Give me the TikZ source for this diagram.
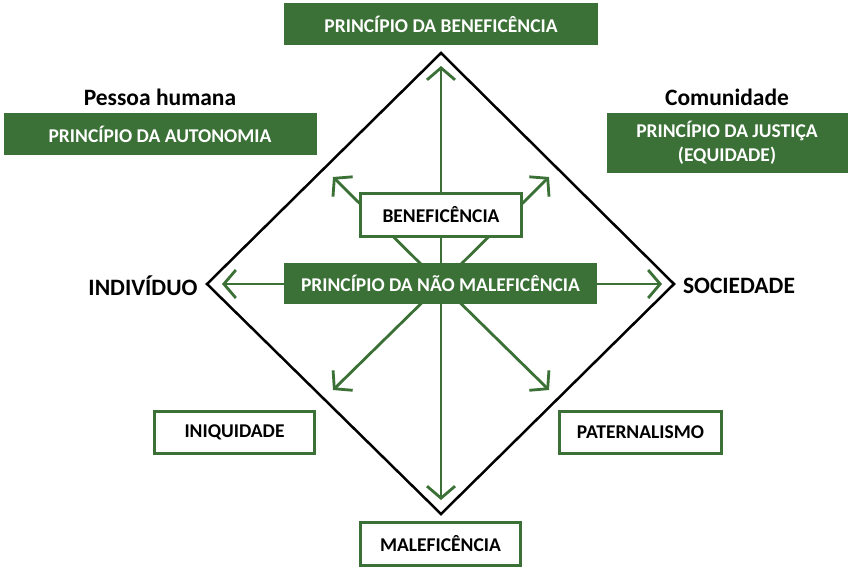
\documentclass[tikz,border=0pt]{standalone}
\usepackage{fontspec}
\setmainfont{Carlito}
\usetikzlibrary{arrows.meta}
\definecolor{grn}{RGB}{59,113,54}
\begin{document}
\begin{tikzpicture}[x=1pt,y=-1pt,
  greenbox/.style={fill=grn, text=white, font=\bfseries\fontsize{19.5}{23}\selectfont, inner sep=0pt, align=center, anchor=center},
  whitebox/.style={draw=grn, fill=white, line width=2.8pt, text=black, font=\bfseries\fontsize{19.5}{23}\selectfont, inner sep=0pt, align=center, anchor=center},
  biglabel/.style={font=\bfseries\fontsize{23.5}{28}\selectfont, text=black, inner sep=0pt, anchor=center},
  arr/.style={draw=grn, line width=2.8pt, -{Straight Barb[length=12pt, width=28pt]}}]
\useasboundingbox[fill=white] (0,0) rectangle (850,568);
% diamond
\coordinate (dT) at (441,53);
\coordinate (dR) at (674,284);
\coordinate (dB) at (441,514);
\coordinate (dL) at (207,284);
\draw[black, line width=2.5pt, line join=miter] (dT) -- (dR) -- (dB) -- (dL) -- cycle;
% arrows
\coordinate (c) at (441,284);
\coordinate (tU) at (441,66);
\coordinate (tD) at (441,500);
\coordinate (tL) at (222,284);
\coordinate (tR) at (662,284);
\coordinate (tUL) at (333,177);
\coordinate (tUR) at (549,177);
\coordinate (tDL) at (333,390);
\coordinate (tDR) at (549,390);
\foreach \t in {tU,tD,tL,tR,tUL,tUR,tDL,tDR} \draw[arr] (c) -- (\t);
% boxes
\node[greenbox, minimum width=314pt, minimum height=42pt] (pb) at (441,24) {PRINCÍPIO DA BENEFICÊNCIA};
\node[greenbox, minimum width=313pt, minimum height=42pt] (pa) at (160,134) {PRINCÍPIO DA AUTONOMIA};
\node[greenbox, minimum width=241pt, minimum height=60pt, font=\bfseries\fontsize{19.5}{24}\selectfont] (pj) at (727,143) {PRINCÍPIO DA JUSTIÇA\\(EQUIDADE)};
\node[whitebox, minimum width=161pt, minimum height=43pt] (bene) at (441,215) {BENEFICÊNCIA};
\node[greenbox, minimum width=313pt, minimum height=41pt] (pnm) at (440.5,283.5) {PRINCÍPIO DA NÃO MALEFICÊNCIA};
\node[whitebox, minimum width=160pt, minimum height=42pt] (iniq) at (234.5,432.5) {INIQUIDADE};
\node[whitebox, minimum width=162pt, minimum height=42pt] (pat) at (640.5,432.5) {PATERNALISMO};
\node[whitebox, minimum width=160pt, minimum height=43pt] (mal) at (440.5,544) {MALEFICÊNCIA};
% labels
\node[biglabel] (ph) at (160,97) {Pessoa humana};
\node[biglabel] (com) at (727,97) {Comunidade};
\node[biglabel] (ind) at (143,286) {INDIVÍDUO};
\node[biglabel] (soc) at (739,286) {SOCIEDADE};
\end{tikzpicture}
\end{document}
